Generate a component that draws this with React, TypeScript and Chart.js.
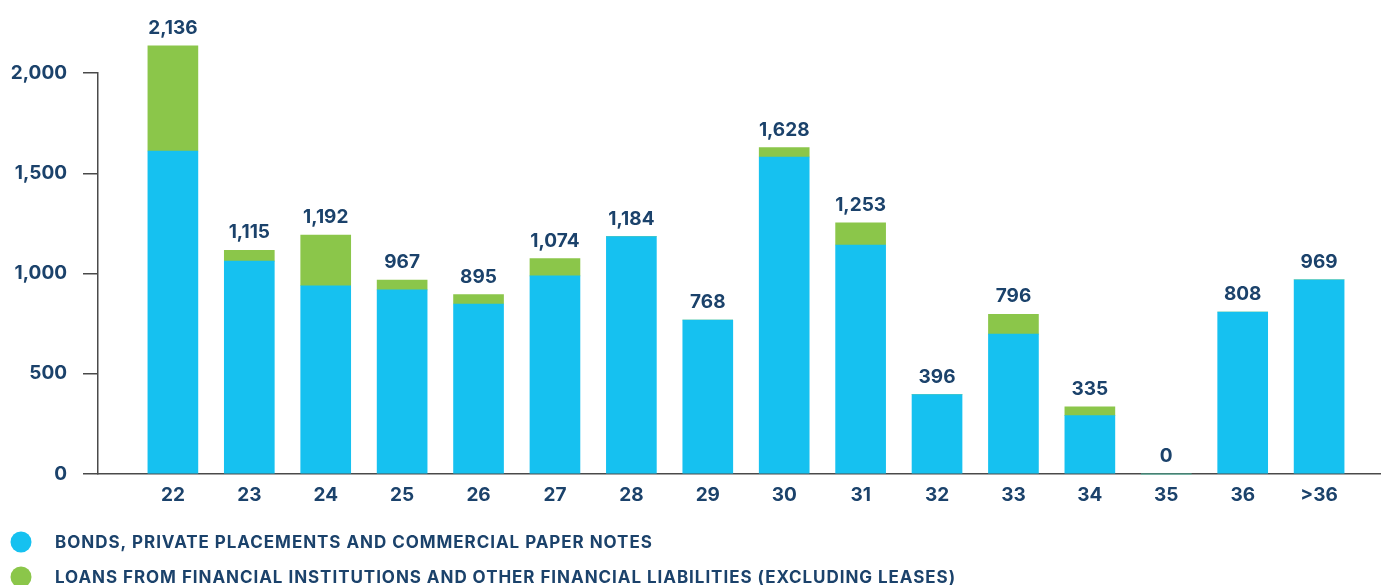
import { useEffect, useRef } from 'react';
import { Chart, registerables } from 'chart.js';

Chart.register(...registerables);

const categories = ['22', '23', '24', '25', '26', '27', '28', '29', '30', '31', '32', '33', '34', '35', '36', '>36'];
const bonds = [1611, 1062, 939, 918, 848, 988, 1184, 768, 1581, 1142, 396, 698, 291, 0, 808, 969];
const loans = [525, 53, 253, 49, 47, 86, 0, 0, 47, 111, 0, 98, 44, 0, 0, 0];
const seriesNames = [
  'BONDS, PRIVATE PLACEMENTS AND COMMERCIAL PAPER NOTES',
  'LOANS FROM FINANCIAL INSTITUTIONS AND OTHER FINANCIAL LIABILITIES (EXCLUDING LEASES)',
];
const yTicks = [0, 500, 1000, 1500, 2000];

const BLUE = '#16C1F0';
const GREEN = '#8BC64A';
const NAVY = '#1B426B';
const AXIS = '#4A4A4A';
const FONT = 'Inter, "Noto Sans", sans-serif';

const fmt = (v: number) => v.toLocaleString('en-US');

const totalsPlugin = {
  id: 'totals',
  afterDatasetsDraw(chart: any) {
    const { ctx, scales } = chart;
    const ds = chart.data.datasets;
    ctx.save();
    ctx.font = `700 19px ${FONT}`;
    ctx.fillStyle = NAVY;
    ctx.textAlign = 'center';
    ctx.textBaseline = 'alphabetic';
    categories.forEach((_, i) => {
      const total = ds.reduce((s: number, d: any) => s + (d.data[i]?.y ?? 0), 0);
      const x = scales.x.getPixelForValue(i);
      const y = scales.y.getPixelForValue(total);
      ctx.fillText(fmt(total), x, y - 12);
    });
    ctx.restore();
  },
};

const legendPlugin = {
  id: 'customLegend',
  afterDraw(chart: any) {
    const { ctx, chartArea } = chart;
    ctx.save();
    ctx.font = `700 17px ${FONT}`;
    (ctx as any).letterSpacing = '0.95px';
    ctx.textAlign = 'left';
    ctx.textBaseline = 'middle';
    chart.data.datasets.forEach((d: any, i: number) => {
      const cy = chartArea.bottom + 68 + i * 35;
      ctx.fillStyle = d.backgroundColor;
      ctx.beginPath();
      ctx.arc(21, cy, 10.5, 0, Math.PI * 2);
      ctx.fill();
      ctx.fillStyle = NAVY;
      ctx.fillText(d.label, 55, cy + 1);
    });
    ctx.restore();
  },
};

export default function App() {
  const ref = useRef<HTMLCanvasElement>(null);
  useEffect(() => {
    if (!ref.current) return;
    const chart = new Chart(ref.current, {
      type: 'bar',
      data: {
        datasets: [
          {
            label: seriesNames[0],
            data: bonds.map((y, x) => ({ x, y })),
            backgroundColor: BLUE,
            barThickness: 50,
            clip: false as any,
          },
          {
            label: seriesNames[1],
            data: loans.map((y, x) => ({ x, y })),
            backgroundColor: GREEN,
            barThickness: 50,
            clip: false as any,
          },
        ],
      },
      plugins: [totalsPlugin, legendPlugin],
      options: {
        animation: false,
        responsive: false,
        layout: { padding: { top: 73, right: 0, bottom: 81, left: 0 } },
        plugins: { legend: { display: false }, tooltip: { enabled: false } },
        scales: {
          x: {
            type: 'linear',
            stacked: true,
            offset: false,
            bounds: 'data',
            min: -0.98,
            max: 15.81,
            afterBuildTicks: (scale: any) => {
              scale.ticks = categories.map((_, i) => ({ value: i }));
            },
            afterFit: (scale: any) => {
              scale.height = 30;
            },
            grid: { display: false, drawTicks: false },
            border: { display: true, color: AXIS, width: 1.5 },
            ticks: {
              autoSkip: false,
              maxRotation: 0,
              padding: 10,
              color: NAVY,
              font: { family: FONT, size: 19, weight: 'bold' },
              callback: (v: any) => categories[v] ?? '',
            },
          },
          y: {
            stacked: true,
            min: 0,
            max: 2000,
            afterBuildTicks: (scale: any) => {
              scale.ticks = yTicks.map((value) => ({ value }));
            },
            afterFit: (scale: any) => {
              scale.width = 98;
            },
            grid: { drawOnChartArea: false, drawTicks: true, tickLength: 15, color: AXIS, lineWidth: 1.5 },
            border: { display: true, color: AXIS, width: 1.5 },
            ticks: {
              padding: 16,
              color: NAVY,
              font: { family: FONT, size: 19, weight: 'bold' },
              callback: (v: any) => fmt(Number(v)),
            },
          },
        },
      },
    });
    return () => chart.destroy();
  }, []);
  return (
    <div style={{ position: 'fixed', left: 0, top: 0, width: 1381, height: 585, background: '#fff' }}>
      <canvas ref={ref} width={1381} height={585} style={{ display: 'block' }} />
    </div>
  );
}
